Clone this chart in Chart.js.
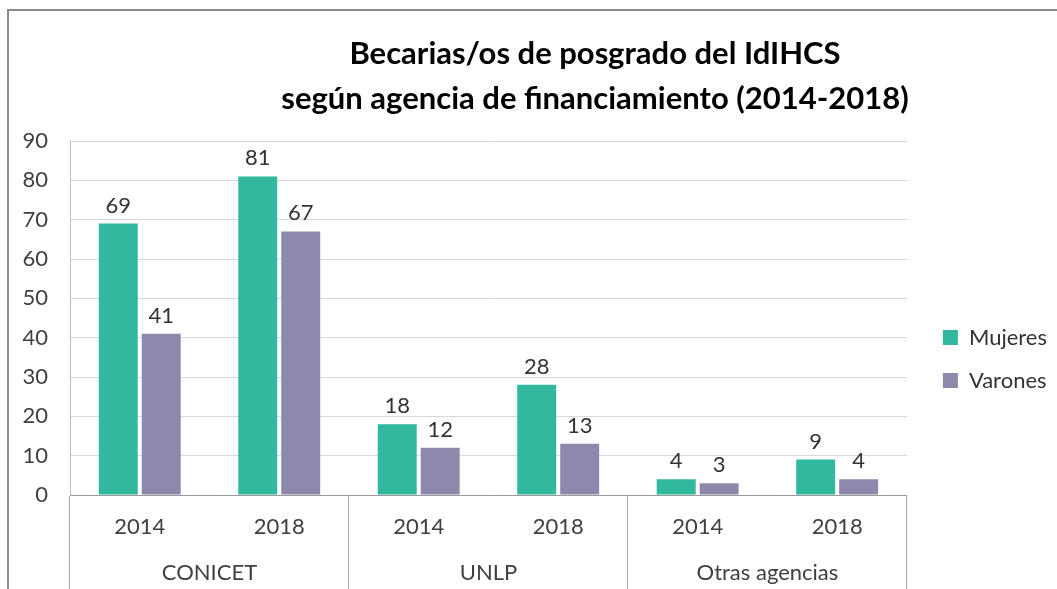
<!DOCTYPE html>
<html>
<head>
<meta charset="utf-8">
<script src="https://cdn.jsdelivr.net/npm/chart.js@4.4.1/dist/chart.umd.min.js"></script>
<style>
  html, body { margin: 0; padding: 0; background: #fff; overflow: hidden; }
  #wrap { position: relative; width: 1057px; height: 589px; }
  #frame { position: absolute; left: 7px; top: 9px; width: 1100px; height: 700px;
           border-left: 2px solid #8c8c8c; border-top: 2px solid #8c8c8c; }
  #title { position: absolute; left: 100px; width: 990px; top: 30px; text-align: center;
           font: bold 31px Lato, "Liberation Sans", sans-serif; line-height: 45px; color: #000; }
  canvas { position: absolute; left: 0; top: 0; }
</style>
</head>
<body>
<div id="wrap">
  <div id="frame"></div>
  <canvas id="chart" width="1057" height="589"></canvas>
  <div id="title">Becarias/os de posgrado del IdIHCS<br>según agencia de financiamiento (2014-2018)</div>
</div>
<script>
const agencies = ['CONICET', 'UNLP', 'Otras agencias'];
const yearLabels = ['2014', '2018', '2014', '2018', '2014', '2018'];
const mujeres = [69, 81, 18, 28, 4, 9];
const varones = [41, 67, 12, 13, 3, 4];
const yMin = 0, yMax = 90, yStep = 10;

Chart.defaults.font.family = "Lato, 'Liberation Sans', sans-serif";
Chart.defaults.font.size = 22;
Chart.defaults.color = '#404040';

// numbers above each bar
const barValues = {
  id: 'barValues',
  afterDatasetsDraw(chart) {
    const ctx = chart.ctx;
    ctx.save();
    ctx.font = "22px Lato, 'Liberation Sans', sans-serif";
    ctx.fillStyle = '#333';
    ctx.textAlign = 'center';
    ctx.textBaseline = 'alphabetic';
    chart.data.datasets.forEach((ds, i) => {
      chart.getDatasetMeta(i).data.forEach((bar, j) => {
        ctx.fillText(ds.data[j], bar.x, bar.y - 11);
      });
    });
    ctx.restore();
  }
};

const sepColor = '#a6a6a6';

// empty boxes used only as spacers
const spacer = (pos, size) => ({
  type: 'linear',
  position: pos,
  ticks: { display: false },
  grid: { display: false },
  border: { display: false },
  afterFit: s => { if (pos === 'top') s.height = size; else s.width = size; }
});

new Chart(document.getElementById('chart'), {
  type: 'bar',
  data: {
    labels: yearLabels,
    datasets: [
      { label: 'Mujeres', data: mujeres, backgroundColor: '#31b89f',
        barPercentage: 0.907, categoryPercentage: 0.616 },
      { label: 'Varones', data: varones, backgroundColor: '#8f88ad',
        barPercentage: 0.907, categoryPercentage: 0.616 }
    ]
  },
  options: {
    responsive: false,
    animation: false,
    layout: { padding: { top: 129, right: 0, bottom: 0, left: 0 } },
    plugins: {
      title: { display: false },
      tooltip: { enabled: false },
      legend: {
        position: 'right',
        labels: { boxWidth: 15, boxHeight: 15, padding: 21, color: '#333',
                  font: { size: 22 } }
      }
    },
    scales: {
      y: {
        min: yMin, max: yMax,
        ticks: { stepSize: yStep, padding: 22, color: '#404040' },
        grid: { color: '#d9d9d9', drawTicks: false },
        border: { color: '#bfbfbf' },
        afterFit: s => { s.width = 70; }
      },
      x: {
        weight: 0,
        ticks: { maxRotation: 0, autoSkip: false, padding: -36, color: '#404040' },
        grid: {
          offset: true, drawOnChartArea: false, tickLength: 55,
          color: c => (c.index === undefined || c.index % 2 === 0) ? sepColor : 'rgba(0,0,0,0)'
        },
        border: { color: '#999' },
        afterFit: s => { s.height = 55; }
      },
      agency: {
        type: 'category',
        position: 'bottom',
        labels: agencies,
        offset: true,
        weight: 1,
        ticks: { maxRotation: 0, autoSkip: false, padding: -29, color: '#404040' },
        grid: { offset: true, drawOnChartArea: false, tickLength: 39, color: sepColor },
        border: { display: false },
        afterFit: s => { s.height = 39; }
      },
      gapRight: spacer('right', 15),
      gapTop: spacer('top', 12)
    }
  },
  plugins: [barValues]
});
</script>
</body>
</html>
